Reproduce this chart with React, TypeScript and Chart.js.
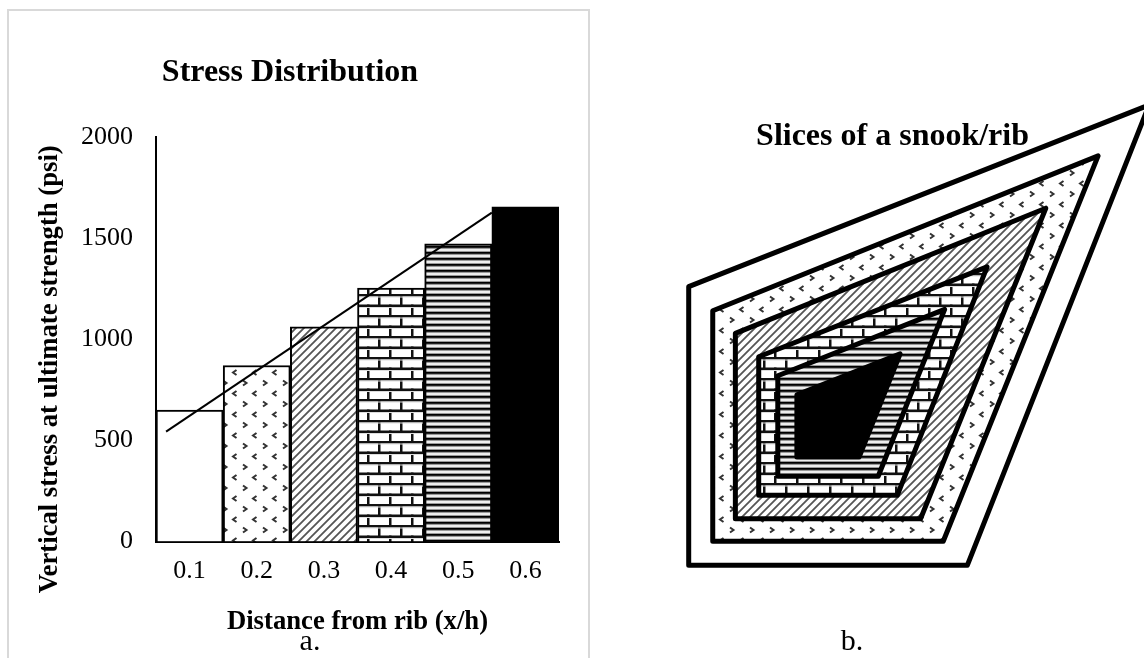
import React, { useEffect, useRef } from "react";
import { Chart, registerables } from "chart.js";

Chart.register(...registerables);

const FONT = "'Liberation Serif', 'Times New Roman', serif";

// Left chart
const barCategories = ["0.1", "0.2", "0.3", "0.4", "0.5", "0.6"];
const barValues = [650, 870, 1062, 1253, 1472, 1655];
const trendX = [0.065, 0.55];
const trendY = [543, 1626];
const yTicks = [0, 500, 1000, 1500, 2000];
const chartTitle = "Stress Distribution";
const xTitle = "Distance from rib (x/h)";
const yTitle = "Vertical stress at ultimate strength (psi)";

// Right chart: spokes run top-right, bottom-right, bottom-left, top-left
const radarLabels = ["A", "B", "C", "D"];
const sliceInner = [102, 44, 44, 44];
const sliceFifth = [165, 71, 71, 71];
const sliceFourth = [225, 98, 98, 98];
const sliceThird = [308, 131, 131, 131];
const sliceSecond = [382, 163, 163, 163];
const sliceOuter = [454, 197, 197, 197];
const radarTitle = "Slices of a snook/rib";

type Painter = (c: CanvasRenderingContext2D) => void;

function tile(ctx: CanvasRenderingContext2D, w: number, h: number, paint: Painter) {
  const cv = document.createElement("canvas");
  cv.width = w;
  cv.height = h;
  const c = cv.getContext("2d")!;
  c.fillStyle = "#fff";
  c.fillRect(0, 0, w, h);
  paint(c);
  return ctx.createPattern(cv, "repeat")!;
}

function makePatterns(ctx: CanvasRenderingContext2D) {
  const dots = tile(ctx, 20, 21, (c) => {
    c.strokeStyle = "#333";
    c.lineWidth = 2;
    c.beginPath();
    c.moveTo(3, 2.5);
    c.lineTo(6.5, 5);
    c.lineTo(3, 7.5);
    c.moveTo(16.5, 13);
    c.lineTo(13, 15.5);
    c.lineTo(16.5, 18);
    c.stroke();
  });
  const diagonal = tile(ctx, 8, 8, (c) => {
    c.strokeStyle = "#555";
    c.lineWidth = 1.8;
    c.beginPath();
    c.moveTo(-2, 10);
    c.lineTo(10, -2);
    c.moveTo(-2, 2);
    c.lineTo(2, -2);
    c.moveTo(6, 10);
    c.lineTo(10, 6);
    c.stroke();
  });
  const brick = tile(ctx, 22, 21, (c) => {
    c.fillStyle = "#111";
    c.fillRect(0, 0, 22, 2.5);
    c.fillRect(0, 10.5, 22, 2.5);
    c.fillRect(4, 0, 2.5, 11);
    c.fillRect(15, 10.5, 2.5, 11);
    c.fillStyle = "#ddd";
    c.fillRect(0, 2.5, 22, 1);
    c.fillRect(0, 13, 22, 1);
  });
  const stripes = tile(ctx, 2, 6, (c) => {
    const rows = ["#000", "#222", "#999", "#eee", "#eee", "#999"];
    rows.forEach((col, i) => {
      c.fillStyle = col;
      c.fillRect(0, i, 2, 1);
    });
  });
  return { dots, diagonal, brick, stripes };
}

// The polygons reach past the plot box, so the filler must not clip them to it.
const openArea = {
  id: "openArea",
  afterLayout(chart: any) {
    chart.chartArea = {
      left: 0,
      top: 0,
      right: chart.width,
      bottom: chart.height,
      width: chart.width,
      height: chart.height,
    };
  },
};

export default function App() {
  const leftRef = useRef<HTMLCanvasElement>(null);
  const rightRef = useRef<HTMLCanvasElement>(null);

  useEffect(() => {
    const lc = leftRef.current!.getContext("2d")!;
    const rc = rightRef.current!.getContext("2d")!;
    const lp = makePatterns(lc);
    const rp = makePatterns(rc);

    const left = new Chart(lc, {
      type: "bar",
      data: {
        labels: barCategories,
        datasets: [
          {
            type: "line",
            data: trendX.map((x, i) => ({ x, y: trendY[i] })),
            xAxisID: "x2",
            yAxisID: "y",
            borderColor: "#000",
            borderWidth: 2,
            pointRadius: 0,
            fill: false,
            order: 0,
          } as any,
          {
            type: "bar",
            data: barValues,
            xAxisID: "x",
            yAxisID: "y",
            backgroundColor: ["#ffffff", lp.dots, lp.diagonal, lp.brick, lp.stripes, "#000000"],
            borderColor: "#000",
            borderWidth: 2,
            categoryPercentage: 1,
            barPercentage: 1,
            grouped: false,
            order: 1,
          } as any,
        ],
      },
      options: {
        animation: false,
        responsive: false,
        layout: { padding: { left: 21, right: 42, top: 0, bottom: 16 } },
        plugins: {
          legend: { display: false },
          tooltip: { enabled: false },
          title: {
            display: true,
            text: chartTitle,
            color: "#000",
            font: { family: FONT, size: 32, weight: "bold" },
            padding: { top: 54, bottom: 44.6 },
          },
        },
        scales: {
          x: {
            type: "category",
            grid: { display: false, drawTicks: false },
            border: { display: true, color: "#000", width: 2 },
            ticks: { color: "#000", font: { family: FONT, size: 26 }, padding: 14, maxRotation: 0 },
            title: {
              display: true,
              text: xTitle,
              color: "#000",
              font: { family: FONT, size: 26.7, weight: "bold" },
              padding: { top: 0, bottom: 4 },
            },
            afterFit: (s: any) => {
              s.height = 100.5;
            },
          },
          x2: {
            type: "linear",
            display: false,
            offset: false,
            min: 0.05,
            max: 0.65,
            position: "bottom",
          },
          y: {
            min: 0,
            max: 2000,
            afterBuildTicks: (s: any) => {
              s.ticks = yTicks.map((value) => ({ value }));
            },
            grid: { display: false, drawTicks: false },
            border: { display: true, color: "#000", width: 2 },
            ticks: {
              color: "#000",
              font: { family: FONT, size: 26 },
              padding: 23,
              callback: (v: any) => String(v),
            },
            title: {
              display: true,
              text: yTitle + "\u00A0".repeat(9),
              color: "#000",
              font: { family: FONT, size: 26.7, weight: "bold" },
              padding: { top: 13, bottom: 0 },
            },
            afterFit: (s: any) => {
              s.width = 135;
            },
          },
        },
      } as any,
    });

    const ring = (data: number[], backgroundColor: any) => ({
      data,
      backgroundColor,
      borderColor: "#000",
      borderWidth: 5,
      borderJoinStyle: "round",
      pointRadius: 0,
      tension: 0,
      fill: true,
      clip: false,
    });

    const right = new Chart(rc, {
      type: "radar",
      plugins: [openArea],
      data: {
        labels: radarLabels,
        datasets: [
          ring(sliceInner, "#000000"),
          ring(sliceFifth, rp.stripes),
          ring(sliceFourth, rp.brick),
          ring(sliceThird, rp.diagonal),
          ring(sliceSecond, rp.dots),
          ring(sliceOuter, "#ffffff"),
        ] as any,
      },
      options: {
        animation: false,
        responsive: false,
        layout: { padding: { left: 0, right: 115, top: 0, bottom: 31 } },
        plugins: {
          legend: { display: false },
          tooltip: { enabled: false },
          title: {
            display: true,
            text: radarTitle,
            align: "end",
            color: "#000",
            font: { family: FONT, size: 32, weight: "bold" },
            padding: { top: 118, bottom: 68.6 },
          },
        },
        scales: {
          r: {
            display: false,
            min: 0,
            max: 201,
            startAngle: 45,
          },
        },
      } as any,
    });

    return () => {
      left.destroy();
      right.destroy();
    };
  }, []);

  const caption = (text: string, x: number): React.ReactNode => (
    <div
      style={{
        position: "absolute",
        left: x,
        top: 625,
        transform: "translateX(-50%)",
        font: `30px/30px ${FONT}`,
        color: "#000",
        whiteSpace: "nowrap",
      }}
    >
      {text}
    </div>
  );

  return (
    <div
      style={{
        position: "absolute",
        left: 0,
        top: 0,
        width: 1144,
        height: 658,
        overflow: "hidden",
        background: "#fff",
      }}
    >
      <div
        style={{
          position: "absolute",
          left: 7,
          top: 9,
          width: 579,
          height: 680,
          border: "2px solid #d9d9d9",
        }}
      />
      <canvas
        ref={leftRef}
        width={601}
        height={658}
        style={{ position: "absolute", left: 0, top: 0, display: "block" }}
      />
      <canvas
        ref={rightRef}
        width={517}
        height={658}
        style={{ position: "absolute", left: 627, top: 0, display: "block" }}
      />
      {caption("a.", 310)}
      {caption("b.", 852)}
    </div>
  );
}
